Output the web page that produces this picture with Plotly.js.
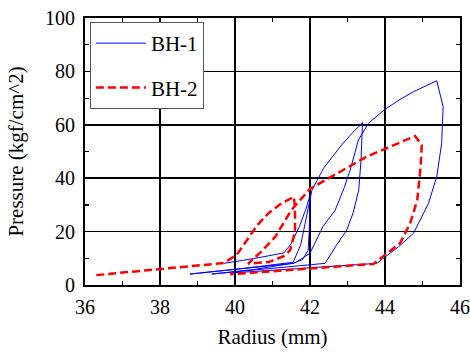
<!DOCTYPE html>
<html>
<head>
<meta charset="utf-8">
<script src="https://cdn.plot.ly/plotly-3.0.1.min.js"></script>
<style>html,body{margin:0;padding:0;background:#fff;}#chart{width:470px;height:352px;}</style>
</head>
<body>
<div id="chart"></div>
<script>
// BH-1 radius (mm) and pressure (kgf/cm^2)
const bh1Radius = [39.7,40.5,41.3,41.5,41.72,41.88,42.0,
  42.0,41.98,41.95,41.8,41.55,40.0,38.8,
  40.2,41.55,41.75,41.87,41.97,42.05,42.36,42.84,43.1,43.4,
  43.36,43.3,43.15,42.98,42.71,42.4,40.8,39.38,
  40.5,41.6,42.0,42.35,42.67,42.9,43.07,43.29,43.56,44.0,44.4,44.76,45.38,
  45.55,45.51,45.38,45.16,44.76,44.36,43.78,39.9];
const bh1Pressure = [8.1,9.9,12.0,15.5,22,28,33.5,
  29,20,13,9.5,8.1,5.8,4.1,
  6.2,8.5,15,23,30,35.5,43.7,52.4,56.5,60.8,
  46.8,35.6,27,20.6,15,8.1,6.0,4.1,
  5.8,8.3,11.9,22,28,36,43,54.3,60.6,65.8,69.5,72.4,76.5,
  66.8,53,40.6,30.6,19.4,14.3,8.1,4.5];
// BH-2
const bh2Radius = [36.3,38.0,39.7,40.05,40.45,40.6,40.9,41.25,41.57,
  41.6,41.6,41.47,41.3,40.9,40.35,
  40.7,41.07,41.5,42.0,42.5,43.0,43.5,44.04,44.5,44.8,
  44.98,44.95,44.86,44.67,44.4,44.0,43.69,39.87];
const bh2Pressure = [3.7,5.9,8.2,11.4,19.7,22.5,27,30.7,33,
  28.5,20,13,10.8,8.6,8.0,
  12.5,18,28,36,40,44.3,48,51.2,54,55.8,
  52.4,44.3,31.8,23.1,15.6,11.2,7.9,4.0];
const seriesNames = ["BH-1","BH-2"];
const xTitle = "Radius (mm)";
const yTitle = "Pressure (kgf/cm^2)";

const fam = "'Liberation Serif', 'Times New Roman', Times, serif";
const tickFont = {family: fam, size: 20, color: "#000"};
const titleFont = {family: fam, size: 21, color: "#000"};
const traces = [
  {x: bh1Radius, y: bh1Pressure, type: "scatter", mode: "lines", name: seriesNames[0],
   legendgroup: "a", line: {color: "#0000ff", width: 1}},
  {x: bh2Radius, y: bh2Pressure, type: "scatter", mode: "lines", name: seriesNames[1],
   legendgroup: "b", line: {color: "#ff0000", width: 2.5, dash: "8px,4px"}}
];
const axisBase = {
  showline: true, linecolor: "#000", linewidth: 2, mirror: "allticks",
  ticks: "inside", ticklen: 6, tickwidth: 1.2, tickcolor: "#000",
  showgrid: true, gridcolor: "#000", gridwidth: 1.5, zeroline: false,
  tickfont: tickFont
};
const layout = {
  width: 470, height: 352,
  margin: {l: 85, r: 10, t: 18, b: 67},
  paper_bgcolor: "#fff", plot_bgcolor: "#fff",
  font: tickFont,
  showlegend: true,
  legend: {x: 0.013, y: 0.985, xanchor: "left", yanchor: "top",
    bordercolor: "#555", borderwidth: 1, bgcolor: "#fff", itemwidth: 50,
    font: {family: fam, size: 21, color: "#000"}, traceorder: "grouped", tracegroupgap: 14},
  xaxis: Object.assign({}, axisBase, {
    range: [36, 46], dtick: 2, tick0: 36, ticklabelstandoff: 3,
    minor: {dtick: 1, ticks: "inside", ticklen: 4, tickcolor: "#000", showgrid: false},
    title: {text: xTitle, font: titleFont, standoff: 12}
  }),
  yaxis: Object.assign({}, axisBase, {
    range: [0, 100], dtick: 20, tick0: 0, ticklabelstandoff: 4,
    minor: {dtick: 10, ticks: "inside", ticklen: 4, tickcolor: "#000", showgrid: false},
    title: {text: yTitle, font: titleFont, standoff: 16}
  })
};
Plotly.newPlot("chart", traces, layout, {displayModeBar: false, staticPlot: true});
</script>
</body>
</html>
